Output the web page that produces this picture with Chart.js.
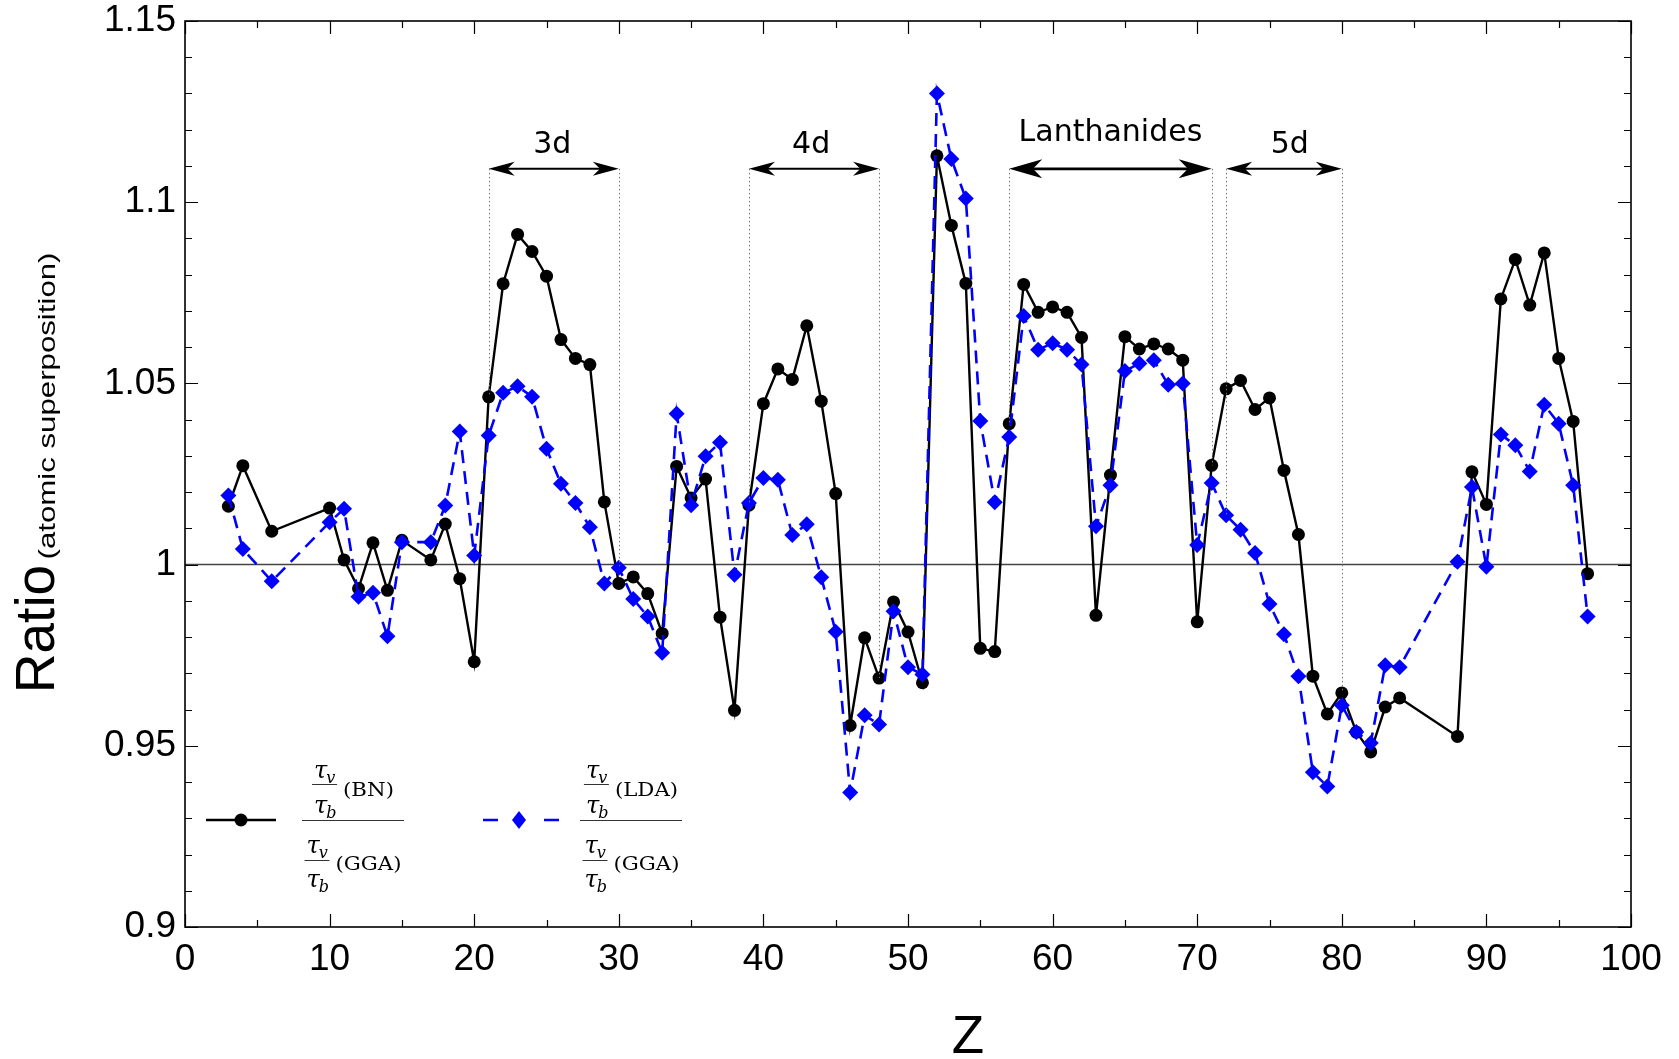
<!DOCTYPE html>
<html>
<head>
<meta charset="utf-8">
<script src="https://cdn.jsdelivr.net/npm/chart.js@4.4.1/dist/chart.umd.min.js"></script>
<style>
html,body{margin:0;padding:0;background:#fff}
#grafica{display:block}
</style>
</head>
<body>
<canvas id="grafica" width="1679" height="1059"></canvas>
<script>
//------- datos
var numeroAtomico = [3,4,6,10,11,12,13,14,15,17,18,19,20,21,22,23,24,25,26,27,28,29,30,31,32,33,34,35,36,37,38,39,40,41,42,43,44,45,46,47,48,49,50,51,52,53,54,55,56,57,58,59,60,61,62,63,64,65,66,67,68,69,70,71,72,73,74,75,76,77,78,79,80,81,82,83,84,88,89,90,91,92,93,94,95,96,97];

// tau_v/tau_b (BN) / tau_v/tau_b (GGA)
var ratioBN = [1.0161,1.0273,1.0092,1.0156,1.0013,0.9934,1.0060,0.9929,1.0067,1.0013,1.0112,0.9961,0.9732,
  1.0463,1.0775,1.0911,1.0864,1.0796,1.0621,1.0569,1.0552,1.0173,0.9948,0.9966,0.9920,0.9810,1.0271,1.0184,1.0236,
  0.9855,0.9598,1.0164,1.0444,1.0540,1.0511,1.0659,1.0451,1.0196,0.9556,0.9798,0.9687,0.9897,0.9814,0.9674,
  1.1128,1.0936,1.0776,0.9769,0.9760,1.0389,1.0773,1.0696,1.0711,1.0696,1.0627,0.9860,1.0247,1.0629,1.0595,
  1.0609,1.0595,1.0564,0.9842,1.0274,1.0485,1.0508,1.0428,1.0460,1.0260,1.0083,0.9692,0.9588,0.9646,0.9538,
  0.9483,0.9607,0.9632,0.9526,1.0256,1.0166,1.0733,1.0842,1.0716,1.0860,1.0569,1.0395,0.9975];

// tau_v/tau_b (LDA) / tau_v/tau_b (GGA)
var ratioLDA = [1.0191,1.0043,0.9954,1.0117,1.0154,0.9911,0.9922,0.9802,1.0062,1.0062,1.0163,1.0367,1.0025,
  1.0356,1.0474,1.0492,1.0463,1.0320,1.0223,1.0170,1.0103,0.9948,0.9991,0.9905,0.9857,0.9757,1.0416,1.0164,1.0299,
  1.0337,0.9972,1.0170,1.0239,1.0234,1.0082,1.0111,0.9965,0.9815,0.9371,0.9584,0.9559,0.9871,0.9717,0.9697,
  1.1300,1.1119,1.1010,1.0396,1.0172,1.0352,1.0686,1.0593,1.0611,1.0593,1.0552,1.0106,1.0219,1.0534,1.0555,
  1.0564,1.0496,1.0500,1.0054,1.0225,1.0136,1.0096,1.0032,0.9891,0.9808,0.9692,0.9427,0.9388,0.9612,0.9538,
  0.9508,0.9722,0.9717,1.0008,1.0214,0.9994,1.0359,1.0329,1.0257,1.0441,1.0389,1.0219,0.9857];

// bloques de la tabla periodica
var bloques = ['3d','4d','Lanthanides','5d'];
var bloqueInicio = [21,39,57,72];
var bloqueFin = [30,48,71,80];
var bloqueTextoZ = [25.4,43.3,64,76.4];
var bloqueFlechaY = 1.1092;
// hasta donde bajan las lineas punteadas (Z, valor)
var punteadoZ = [21,30,39,48,57,71,72,80];
var punteadoHasta = [1.0463,0.9991,1.0170,0.9687,1.0389,1.0274,1.0136,0.9646];

var xMin = 0, xMax = 100, yMin = 0.9, yMax = 1.15;

function puntos(valores){
    return numeroAtomico.map(function(z,i){ return {x:z, y:valores[i]}; });
}

function dibujarFlecha(ctx, x, y, dir, largo, alto){
    // punta tipo matlab con la parte de atras hundida
    ctx.beginPath();
    ctx.moveTo(x, y);
    ctx.lineTo(x + dir*largo, y - alto/2);
    ctx.lineTo(x + dir*largo*0.72, y);
    ctx.lineTo(x + dir*largo, y + alto/2);
    ctx.closePath();
    ctx.fill();
}

function dibujarTau(ctx, x, base, sub){
    ctx.font = 'italic 24px "DejaVu Serif"';
    ctx.fillText('\u03c4', x, base);
    var w = ctx.measureText('\u03c4').width;
    ctx.font = 'italic 16px "DejaVu Serif"';
    ctx.fillText(sub, x + w - 1, base + 5);
}

function dibujarFraccion(ctx, izq, yBarra, arriba, abajo){
    var ancho = 102, centro = izq + ancho/2;
    ctx.save();
    ctx.fillStyle = '#000';
    ctx.strokeStyle = '#333';
    ctx.lineWidth = 1;
    ctx.textAlign = 'left';
    ctx.textBaseline = 'alphabetic';
    ctx.beginPath();
    ctx.moveTo(izq, yBarra + 0.5); ctx.lineTo(izq + ancho, yBarra + 0.5);
    ctx.stroke();
    var partes = [[arriba, -36, -42, -7, -24], [abajo, 40, 33, 67, 50]];
    partes.forEach(function(p){
        ctx.font = '19px "DejaVu Serif"';
        var tw = ctx.measureText(p[0]).width * 1.12;
        var gw = 25 + 6 + tw;
        var gx = centro - gw/2;
        ctx.beginPath();
        ctx.moveTo(gx, yBarra + p[1] + 0.5); ctx.lineTo(gx + 25, yBarra + p[1] + 0.5);
        ctx.stroke();
        dibujarTau(ctx, gx + 2, yBarra + p[2], 'v');
        dibujarTau(ctx, gx + 2, yBarra + p[3], 'b');
        ctx.save();
        ctx.translate(gx + 31, yBarra + p[4]);
        ctx.scale(1.12, 1);
        ctx.font = '19px "DejaVu Serif"';
        ctx.fillText(p[0], 0, 0);
        ctx.restore();
    });
    ctx.restore();
}

var pluginMarco = {
    id: 'marco',
    beforeDatasetsDraw: function(chart){
        var ctx = chart.ctx, a = chart.chartArea, ys = chart.scales.y;
        var y1 = ys.getPixelForValue(1);
        ctx.save();
        ctx.strokeStyle = '#444';
        ctx.lineWidth = 1.5;
        ctx.beginPath();
        ctx.moveTo(a.left, y1); ctx.lineTo(a.right, y1);
        ctx.stroke();
        ctx.restore();
    },
    afterDraw: function(chart){
        var ctx = chart.ctx, a = chart.chartArea, xs = chart.scales.x, ys = chart.scales.y;
        ctx.save();
        // marco y marcas hacia adentro
        ctx.strokeStyle = '#000';
        ctx.lineWidth = 1.2;
        ctx.beginPath();
        for (var i = 0; i <= 20; i++){
            var xp = Math.round(xs.getPixelForValue(i*5)) + 0.5;
            var l = (i % 2 === 0) ? 13 : 7;
            ctx.moveTo(xp, a.bottom); ctx.lineTo(xp, a.bottom - l);
            ctx.moveTo(xp, a.top); ctx.lineTo(xp, a.top + l);
        }
        for (var j = 0; j <= 25; j++){
            var yp = Math.round(ys.getPixelForValue(yMin + j*0.01)) + 0.5;
            var ly = (j % 5 === 0) ? 13 : 7;
            ctx.moveTo(a.left, yp); ctx.lineTo(a.left + ly, yp);
            ctx.moveTo(a.right, yp); ctx.lineTo(a.right - ly, yp);
        }
        ctx.stroke();
        ctx.lineWidth = 1.6;
        ctx.strokeRect(a.left, a.top, a.right - a.left, a.bottom - a.top);

        // lineas punteadas de los bloques
        var yFlecha = ys.getPixelForValue(bloqueFlechaY);
        ctx.strokeStyle = '#777';
        ctx.lineWidth = 1;
        ctx.setLineDash([1.5, 2.5]);
        ctx.beginPath();
        punteadoZ.forEach(function(z, k){
            var xp = Math.round(xs.getPixelForValue(z)) + 0.5;
            ctx.moveTo(xp, yFlecha); ctx.lineTo(xp, ys.getPixelForValue(punteadoHasta[k]));
        });
        ctx.stroke();
        ctx.setLineDash([]);

        // flechas y nombres
        ctx.fillStyle = '#000';
        ctx.strokeStyle = '#000';
        bloques.forEach(function(nombre, k){
            var x1 = xs.getPixelForValue(bloqueInicio[k]);
            var x2 = xs.getPixelForValue(bloqueFin[k]);
            var grande = nombre === 'Lanthanides';
            var largo = grande ? 33 : 26, alto = grande ? 19 : 14;
            ctx.lineWidth = grande ? 2.6 : 2;
            ctx.beginPath();
            ctx.moveTo(x1 + largo*0.6, yFlecha); ctx.lineTo(x2 - largo*0.6, yFlecha);
            ctx.stroke();
            dibujarFlecha(ctx, x1, yFlecha, 1, largo, alto);
            dibujarFlecha(ctx, x2, yFlecha, -1, largo, alto);
            ctx.font = '30px "DejaVu Sans"';
            ctx.textAlign = 'center';
            ctx.textBaseline = 'alphabetic';
            var yTexto = grande ? ys.getPixelForValue(1.117) : ys.getPixelForValue(1.1137);
            ctx.fillText(nombre, xs.getPixelForValue(bloqueTextoZ[k]), yTexto);
        });

        // leyenda
        ctx.lineWidth = 2.5;
        ctx.strokeStyle = '#000';
        ctx.beginPath();
        ctx.moveTo(206, 820); ctx.lineTo(276, 820);
        ctx.stroke();
        ctx.beginPath();
        ctx.arc(241, 820, 6.5, 0, Math.PI*2);
        ctx.fill();
        ctx.strokeStyle = '#0000ff';
        ctx.fillStyle = '#0000ff';
        ctx.lineWidth = 2.6;
        ctx.setLineDash([15, 46]);
        ctx.beginPath();
        ctx.moveTo(483, 820); ctx.lineTo(559, 820);
        ctx.stroke();
        ctx.setLineDash([]);
        ctx.beginPath();
        ctx.moveTo(519, 811); ctx.lineTo(526, 820); ctx.lineTo(519, 829); ctx.lineTo(512, 820);
        ctx.closePath();
        ctx.fill();
        ctx.fillStyle = '#000';
        dibujarFraccion(ctx, 302, 820, '(BN)', '(GGA)');
        dibujarFraccion(ctx, 580, 820, '(LDA)', '(GGA)');

        // titulos de los ejes
        ctx.fillStyle = '#000';
        ctx.textAlign = 'center';
        ctx.textBaseline = 'alphabetic';
        ctx.font = '53px "Liberation Sans"';
        ctx.fillText('Z', 968, 1053);
        ctx.save();
        ctx.translate(54, 629);
        ctx.rotate(-Math.PI/2);
        ctx.font = '55px "Liberation Sans"';
        ctx.fillText('Ratio', 0, 0);
        ctx.restore();
        ctx.save();
        ctx.translate(55, 406);
        ctx.rotate(-Math.PI/2);
        ctx.font = '24px "Liberation Sans"';
        var w = ctx.measureText('(atomic superposition)').width;
        ctx.scale(307 / w, 1);
        ctx.fillText('(atomic superposition)', 0, 0);
        ctx.restore();
        ctx.restore();
    }
};

function sinRelleno(s){
    s.paddingLeft = 0; s.paddingRight = 0; s.paddingTop = 0; s.paddingBottom = 0;
}

var canvas = document.getElementById('grafica').getContext('2d');
var grafica = new Chart(canvas, {
    type: 'line',
    data: {
        datasets: [{
            label: 'BN/GGA',
            data: puntos(ratioBN),
            borderColor: '#000',
            backgroundColor: '#000',
            borderWidth: 2.4,
            pointStyle: 'circle',
            pointRadius: 6.5,
            pointBorderWidth: 0,
            tension: 0,
            order: 1
        }, {
            label: 'LDA/GGA',
            data: puntos(ratioLDA),
            borderColor: '#0000ff',
            backgroundColor: '#0000ff',
            borderWidth: 2.6,
            borderDash: [13, 8],
            pointStyle: 'rectRot',
            pointRadius: 8,
            pointBorderWidth: 0,
            tension: 0,
            order: 0
        }]
    },
    options: {
        responsive: false,
        devicePixelRatio: 1,
        animation: false,
        events: [],
        layout: { padding: { top: 21, right: 48, bottom: 0, left: 0 } },
        plugins: { legend: { display: false }, tooltip: { enabled: false } },
        scales: {
            x: {
                type: 'linear', min: xMin, max: xMax,
                grid: { display: false, drawTicks: false },
                border: { display: false },
                ticks: { stepSize: 10, autoSkip: false, maxRotation: 0, padding: 11, color: '#000',
                         font: { family: 'Liberation Sans', size: 37 } },
                afterFit: function(s){ s.height = 132; sinRelleno(s); }
            },
            y: {
                type: 'linear', min: yMin, max: yMax,
                grid: { display: false, drawTicks: false },
                border: { display: false },
                ticks: { stepSize: 0.05, padding: 9, color: '#000',
                         font: { family: 'Liberation Sans', size: 37 },
                         callback: function(v){ return String(parseFloat(v.toFixed(3))); } },
                afterFit: function(s){ s.width = 185; sinRelleno(s); }
            }
        }
    },
    plugins: [pluginMarco]
});
</script>
</body>
</html>
